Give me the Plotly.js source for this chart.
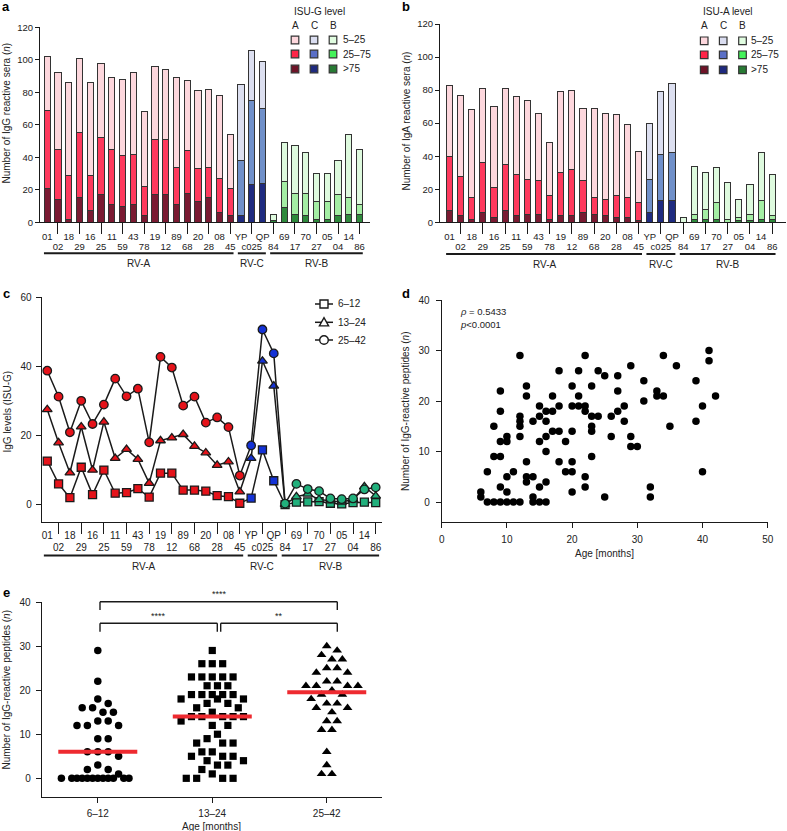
<!DOCTYPE html>
<html><head><meta charset="utf-8">
<script src="https://cdn.plot.ly/plotly-3.0.1.min.js"></script>
<style>html,body{margin:0;padding:0;background:#fff}</style>
</head><body><div id="chart" style="width:787px;height:831px"></div>
<script>
// ---------- DATA ----------
const serotypes = ['01','02','18','29','16','25','11','59','43','78','19','12','89','68','20','28','08','45','YP','c025','QP','84','69','17','70','27','05','04','14','86'];
const species   = ['A','A','A','A','A','A','A','A','A','A','A','A','A','A','A','A','A','A','C','C','C','B','B','B','B','B','B','B','B','B'];
const groupNames = ['RV-A','RV-C','RV-B'];
const groupKeys  = ['A','C','B'];
const levelNames = ['5–25','25–75','>75'];

// Panel a: number of IgG reactive sera per ISU-G level
const igG_gt75  = [21,14,2,15,7,17,11,10,11,4,17,17,11,18,13,15,6,4, 4,23,24, 1,9,5,4,2,2,4,5,5];
const igG_25_75 = [48,31,27,40,22,35,34,31,31,18,34,34,23,26,20,19,21,17, 34,52,46, 0,16,13,14,11,11,13,10,6];
const igG_5_25  = [33,47,57,46,57,46,44,47,50,46,45,43,55,43,48,48,51,33, 47,31,29, 4,24,29,25,17,17,21,39,34];

// Panel b: number of IgA reactive sera per ISU-A level
const igA_gt75  = [7,4,2,6,3,7,4,5,5,2,4,4,6,5,4,3,3,1, 6,13,13, 0,2,2,2,0,1,1,2,2];
const igA_25_75 = [33,24,13,30,18,28,25,21,20,14,26,28,19,10,10,13,12,11, 20,28,29, 0,3,6,10,2,2,4,11,2];
const igA_5_25  = [43,49,53,45,49,46,47,48,41,32,49,48,44,54,52,49,44,31, 34,38,42, 3,29,22,21,22,11,18,29,25];

// Panel c: IgG levels (ISU-G) per age group
const ageGroups = ['6–12','13–24','25–42'];
const isu_6_12  = [12.7,6.1,2.1,10.9,3.0,10.1,3.4,3.6,4.7,2.3,9.2,9.2,4.3,4.3,4.0,2.7,2.4,0.5, 2.0,15.9,7.0, 0.1,0.8,0.9,1.0,0.5,0.3,0.7,0.8,0.7];
const isu_13_24 = [27.6,18.0,9.3,22.6,10.1,24.0,13.5,16.1,13.2,6.3,18.6,19.4,20.4,17.0,15.1,11.5,12.5,3.8, 13.5,41.6,34.4, 0.2,2.4,3.2,1.6,1.2,0.9,1.6,5.3,2.6];
const isu_25_42 = [38.8,31.3,21.0,30.1,23.4,29.0,36.5,31.4,33.6,18.1,42.8,39.7,28.7,31.3,23.8,25.3,22.5,8.5, 17.2,50.7,43.8, 0.4,6.1,4.6,4.0,1.9,1.7,1.9,4.5,5.1];

// Panel d: age vs number of IgG-reactive peptides
const ageMonths = [6,6, 7,7, 8,8,8, 9,9,9,9,9,9, 10,10,10,10,10, 11,11, 12,12,12,12,12,12, 13,13,13,13,13, 14,14,14,14, 15,15,15,15,15, 16,16,16,16,16,16, 17,17,17, 18,18,18,18, 19,19, 20,20,20,20,20,20, 21,21,21, 22,22,22,22,22, 23,23,23,23,23, 24,24, 25,25, 26,26, 27,27,27, 28,28, 29,29,29, 30, 31,31, 32,32, 33,33, 34,34, 35, 36, 39,39, 40,40, 41,41, 42];
const peptides  = [2,1, 0,6, 0,15,9, 0,22,18,12,9,3, 0,13,12,5,2, 0,6, 0,29,17,16,15,13, 23,21,8,5,4, 0,16,5,1, 0,19,17,12,3, 0,18,16,13,10,4, 21,18,14, 26,19,14,8, 12,6, 23,19,14,8,6,2, 26,21,19, 29,19,18,5,3, 23,17,15,14,9, 26,17, 25,1, 17,13, 25,22,18, 19,16, 27,13,11, 11, 24,20, 3,1, 22,21, 29,21, 15, 27, 24,16, 19,6, 30,28, 21];
const rhoText = '<i>ρ</i> = 0.5433';
const pText = '<i>p</i>&lt;0.0001';

// Panel e: IgG-reactive peptides per age group
const pep_6_12  = [29,22,18,17,16,16,15,15,13,13,12,12,12,9,9,6,6,6,5,3,2,2,1,0,0,0,0,0,0,0,0,0,0,0,0];
const pep_13_24 = [29,26,26,26,23,23,23,23,23,21,21,21,19,19,19,19,19,18,18,18,17,17,16,16,15,14,14,14,14,14,13,12,12,10,9,8,8,8,6,6,5,5,5,4,4,3,3,2,1,0,0,0,0];
const pep_25_42 = [30,29,28,27,27,25,25,24,24,22,22,21,21,21,21,20,19,19,18,17,17,16,16,15,13,13,11,11,6,3,1,1];
const sigLabels = ['****','****','**'];

// ---------- STYLE ----------
const W = 787, H = 831;
const FONT = 'Liberation Sans, Arial, Helvetica, sans-serif';
const fx = p => p / W, fy = p => 1 - p / H;
const barCol = {A:['#FDD7DD','#FF3A5E','#7A1A32'], C:['#DCDFF0','#7090C9','#1F2B80'], B:['#DEFADE','#A4EEA4','#2E8A3C']};
const legCol = {A:['#FDD7DD','#FF2448','#6E1428'], C:['#DADDF0','#5A6FC6','#1F2A7E'], B:['#E0FCE0','#44F25A','#287A34']};
const lineCol = {A:'#E5131A', C:'#1432D6', B:'#21B07C'};
const INK = '#1a1a1a';

const traces = [], shapes = [], annotations = [];
function ann(text, x, y, o) {
  o = o || {};
  annotations.push({xref:'paper', yref:'paper', x:fx(x), y:fy(y), text, showarrow:false,
    xanchor:o.xa || 'center', yanchor:'middle', textangle:o.rot || 0,
    font:{family:FONT, size:o.size || 10, color:o.color || '#222', weight:o.weight || 'normal'}});
}
function pline(x0, y0, x1, y1, w) {
  shapes.push({type:'line', xref:'paper', yref:'paper', x0:fx(x0), y0:fy(y0), x1:fx(x1), y1:fy(y1), line:{color:INK, width:w || 1}});
}
function axis(extra) {
  return Object.assign({showgrid:false, zeroline:false, showline:true, linecolor:INK, linewidth:1,
    ticks:'outside', ticklen:4, tickwidth:1, tickcolor:INK, fixedrange:true, tickangle:0,
    tickfont:{family:FONT, size:9.5, color:'#222'}}, extra);
}
const evenIdx = serotypes.map((s, i) => i).filter(i => i % 2 === 0);
const oddIdx  = serotypes.map((s, i) => i).filter(i => i % 2 === 1);
function groupRange(k) {
  const idx = species.map((s, i) => s === k ? i : -1).filter(i => i >= 0);
  return [idx[0], idx[idx.length - 1]];
}
function groupDecor(xref, lineY, labelY) {
  groupKeys.forEach((k, gi) => {
    const [a, b] = groupRange(k);
    shapes.push({type:'line', xref, yref:'paper', x0:a - 0.3, x1:b + 0.3, y0:fy(lineY), y1:fy(lineY), line:{color:INK, width:2}});
    annotations.push({xref, yref:'paper', x:(a + b) / 2, y:fy(labelY), text:groupNames[gi], showarrow:false,
      xanchor:'center', yanchor:'middle', font:{family:FONT, size:10, color:'#222'}});
  });
}
// serotype axis: upper row (even) on the main category axis, lower row (odd) on an overlaid axis with long ticks
function serotypeAxes(domain, range, yName, font, upperLen, lowerStandoff) {
  const main = axis({domain, type:'category', range, tickmode:'array',
    tickvals:evenIdx.map(i => serotypes[i]), ticktext:evenIdx.map(i => serotypes[i]),
    ticklen:upperLen, tickcolor:'rgba(0,0,0,0)', anchor:yName, tickfont:font});
  const lower = axis({type:'linear', range, autorange:false, tickmode:'array', tickvals:oddIdx, ticktext:oddIdx.map(i => serotypes[i]),
    ticklen:11, ticklabelstandoff:lowerStandoff, showline:false, anchor:yName, tickfont:font});
  return [main, lower];
}
function barLegend(title, titleX, colX, rowY, labX) {
  ann(title, titleX, 12, {xa:'left'});
  groupKeys.forEach((k, c) => {
    ann(k, colX[c], 25.5);
    [0,1,2].forEach(r => {
      shapes.push({type:'rect', xref:'paper', yref:'paper', x0:fx(colX[c] - 3.8), x1:fx(colX[c] + 3.8),
        y0:fy(rowY[r] - 3.8), y1:fy(rowY[r] + 3.8), fillcolor:legCol[k][r], line:{color:'#333', width:1.2}});
    });
  });
  levelNames.forEach((t, r) => ann(t.replace('>', '&gt;'), labX, rowY[r], {xa:'left'}));
}

// ---------- PANEL a / b: stacked bars (bottom: >75, then 25–75, then 5–25) ----------
function stackBars(xa, ya, vals, width) {
  vals.forEach((v, k) => {
    const ci = 2 - k; // colour index: 0 light (5–25), 1 mid, 2 dark (>75)
    traces.push({type:'bar', x:serotypes, y:v, xaxis:xa, yaxis:ya, width,
      marker:{color:species.map(s => barCol[s][ci]), line:{color:'#333', width:1}}, hoverinfo:'skip'});
  });
}
stackBars('x', 'y', [igG_gt75, igG_25_75, igG_5_25], 0.58);
stackBars('x2', 'y2', [igA_gt75, igA_25_75, igA_5_25], 0.55);

// invisible anchors so the overlaid lower-row serotype axes get drawn
[['x6','y'],['x7','y2'],['x8','y3']].forEach(([xa, ya]) => {
  traces.push({type:'scatter', mode:'markers', x:[0], y:[0], xaxis:xa, yaxis:ya, marker:{size:1, opacity:0}, hoverinfo:'skip', cliponaxis:true});
});

// ---------- PANEL c: lines ----------
const cSeries = [[isu_6_12, 'square', 8], [isu_13_24, 'triangle-up', 8.5], [isu_25_42, 'circle', 8.5]];
cSeries.forEach(([v, sym, sz]) => {
  traces.push({type:'scatter', mode:'lines+markers', x:serotypes, y:v, xaxis:'x3', yaxis:'y3', cliponaxis:false,
    line:{color:INK, width:1.5}, marker:{symbol:sym, size:sz, color:species.map(s => lineCol[s]), line:{color:INK, width:1.3}}, hoverinfo:'skip'});
});

// ---------- PANEL d: scatter ----------
traces.push({type:'scatter', mode:'markers', x:ageMonths, y:peptides, xaxis:'x4', yaxis:'y4', cliponaxis:false,
  marker:{color:'#000', size:7.5}, hoverinfo:'skip'});

// ---------- PANEL e: beeswarm ----------
const eDom = [41.7, 381.7], eRange = [-0.49, 2.48], eYDom = [602, 796.7], eYRange = [-4.17, 40];
const pxPerCat = (eDom[1] - eDom[0]) / (eRange[1] - eRange[0]);
const pxPerUnit = (eYDom[1] - eYDom[0]) / (eYRange[1] - eYRange[0]);
function swarm(vals, D, step, maxOff) {
  const order = vals.map((v, i) => i).sort((a, b) => vals[b] - vals[a]);
  const cands = [0];
  for (let k = 1; k * step <= maxOff + 1e-6; k++) cands.push(k * step, -k * step);
  const placed = [], off = new Array(vals.length);
  for (const i of order) {
    const y = vals[i] * pxPerUnit;
    let best = 0, bestD = -1;
    for (const c of cands) {
      let md = Infinity;
      for (const p of placed) { const d = Math.hypot(p.x - c, p.y - y); if (d < md) md = d; }
      if (md >= D) { best = c; break; }
      if (md > bestD + 1e-9) { bestD = md; best = c; }
    }
    placed.push({x:best, y}); off[i] = best / pxPerCat;
  }
  return off;
}
function median(a) { const s = a.slice().sort((p, q) => p - q); const n = s.length; return n % 2 ? s[(n - 1) / 2] : (s[n / 2 - 1] + s[n / 2]) / 2; }
const eGroups = [[pep_6_12, 'circle', 7.5], [pep_13_24, 'square', 7.2], [pep_25_42, 'triangle-up', 8.5]];
eGroups.forEach(([v, sym, sz], gi) => {
  const off = swarm(v, 9.6, 5.2, 37);
  traces.push({type:'scatter', mode:'markers', x:v.map((_, i) => gi + off[i]), y:v, xaxis:'x5', yaxis:'y5', cliponaxis:false,
    marker:{symbol:sym, size:sz, color:'#000'}, hoverinfo:'skip'});
});
eGroups.forEach(([v], gi) => {
  const m = median(v);
  traces.push({type:'scatter', mode:'lines', x:[gi - 0.345, gi + 0.345], y:[m, m], xaxis:'x5', yaxis:'y5', cliponaxis:false,
    line:{color:'#EE2A30', width:4}, hoverinfo:'skip'});
});

// ---------- LAYOUT ----------
const F10 = {family:FONT, size:10, color:'#222'};
const F95 = {family:FONT, size:9.5, color:'#222'};
const [xa1, xa1b] = serotypeAxes([fx(40), fx(370)], [-0.668, 29.97], 'y', F95, 5, 4);
const [xa2, xa2b] = serotypeAxes([fx(440), fx(786)], [-0.85, 30.24], 'y2', F95, 5, 4);
const [xa3, xa3b] = serotypeAxes([fx(41.7), fx(381.7)], [-0.49, 29.53], 'y3', F10, 4, 5);
xa1b.overlaying = 'x'; xa2b.overlaying = 'x2'; xa3b.overlaying = 'x3';
const layout = {
  width:W, height:H, margin:{l:0, r:0, t:0, b:0}, showlegend:false,
  paper_bgcolor:'#fff', plot_bgcolor:'rgba(0,0,0,0)', barmode:'stack',
  font:{family:FONT, size:9, color:'#222'},
  xaxis: xa1, xaxis6: xa1b,
  yaxis: axis({domain:[fy(222.3), fy(27.3)], range:[0, 120], tickvals:[0,20,40,60,80,100,120], anchor:'x'}),
  xaxis2: xa2, xaxis7: xa2b,
  yaxis2: axis({domain:[fy(222.3), fy(24)], range:[0, 120], tickvals:[0,20,40,60,80,100,120], anchor:'x2'}),
  xaxis3: xa3, xaxis8: xa3b,
  yaxis3: axis({domain:[fy(522.3), fy(297.3)], range:[-5, 60], tickvals:[0,20,40,60], ticklen:5, ticklabelstandoff:2, anchor:'x3', tickfont:F10}),
  xaxis4: axis({domain:[fx(441.7), fx(767.7)], range:[0, 50], tickvals:[0,10,20,30,40,50], ticklen:5, ticklabelstandoff:3, anchor:'y4', tickfont:F10}),
  yaxis4: axis({domain:[fy(522.3), fy(300)], range:[-4, 40], tickvals:[0,10,20,30,40], ticklen:5, ticklabelstandoff:4, anchor:'x4', tickfont:F10}),
  xaxis5: axis({domain:[fx(eDom[0]), fx(eDom[1])], range:eRange, tickvals:[0,1,2], ticktext:ageGroups, ticklen:5, ticklabelstandoff:2, anchor:'y5', tickfont:F10}),
  yaxis5: axis({domain:[fy(eYDom[1]), fy(eYDom[0])], range:eYRange, tickvals:[0,10,20,30,40], ticklen:5, ticklabelstandoff:3, anchor:'x5', tickfont:F10}),
  shapes, annotations
};

// group lines a, b, c
groupDecor('x', 253.3, 263.5);
groupDecor('x2', 254, 264.5);
groupDecor('x3', 555.5, 566.5);

// legends a, b
barLegend('ISU-G level', 291.5, [295, 314, 333], [40, 54, 69], 340.5);
barLegend('ISU-A level', 700.5, [704.2, 723.2, 742.5], [40.8, 54.8, 69.8], 748.5);

// legend c (drawn as shapes)
const cLegY = [304, 322.3, 340];
cLegY.forEach((y, i) => {
  pline(315, y, 333, y, 1.5);
  const cx = 324;
  if (i === 0) shapes.push({type:'rect', xref:'paper', yref:'paper', x0:fx(cx - 4), x1:fx(cx + 4), y0:fy(y - 4), y1:fy(y + 4), fillcolor:'#fff', line:{color:INK, width:1.4}});
  if (i === 1) shapes.push({type:'path', xref:'paper', yref:'paper', path:`M${fx(cx - 4.6)},${fy(y + 3.6)} L${fx(cx + 4.6)},${fy(y + 3.6)} L${fx(cx)},${fy(y - 4.6)} Z`, fillcolor:'#fff', line:{color:INK, width:1.4}});
  if (i === 2) shapes.push({type:'circle', xref:'paper', yref:'paper', x0:fx(cx - 4.3), x1:fx(cx + 4.3), y0:fy(y - 4.3), y1:fy(y + 4.3), fillcolor:'#fff', line:{color:INK, width:1.4}});
  ann(ageGroups[i], 335.5, y, {xa:'left'});
});

// brackets e
function bracket(x0, x1, yTop, yLeg) { pline(x0, yLeg, x0, yTop, 1.4); pline(x0, yTop, x1, yTop, 1.4); pline(x1, yTop, x1, yLeg, 1.4); }
bracket(100, 337.3, 601.7, 610);
bracket(100, 217.3, 623.3, 631.7);
bracket(220.7, 337.3, 623.3, 631.7);
ann(sigLabels[0], 219, 594, {size:9});
ann(sigLabels[1], 158, 616, {size:9});
ann(sigLabels[2], 279.3, 616, {size:9});

// axis titles
ann('Number of IgG reactive sera (<i>n</i>)', 6.5, 113, {rot:-90});
ann('Number of IgA reactive sera (<i>n</i>)', 405.5, 121, {rot:-90});
ann('IgG levels (ISU-G)', 6.5, 412, {rot:-90});
ann('Number of IgG-reactive peptides (<i>n</i>)', 406, 411, {rot:-90});
ann('Age [months]', 604.7, 553);
ann('Number of IgG-reactive peptides (<i>n</i>)', 5.5, 690, {rot:-90});
ann('Age [months]', 212, 826);
// stats d
ann(rhoText, 457.5, 311, {xa:'left', size:9.5});
ann(pText, 457.5, 324.5, {xa:'left', size:9.5});
// panel letters
[['a', 6, 7], ['b', 406, 7], ['c', 6, 293], ['d', 406, 293], ['e', 6, 592]].forEach(([t, x, y]) => ann(t, x, y, {size:13, weight:'bold', color:'#000'}));

Plotly.newPlot('chart', traces, layout, {staticPlot:true, displayModeBar:false});
</script></body></html>
